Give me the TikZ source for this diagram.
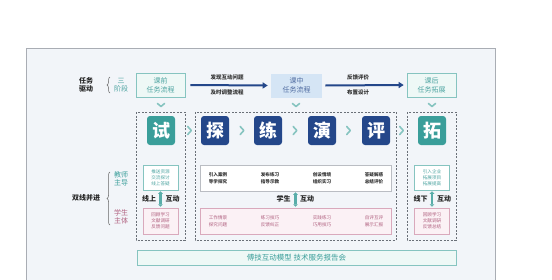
\documentclass[tikz,border=0pt]{standalone}
\usepackage{fontspec}
\setmainfont{Noto Sans CJK SC}
\usetikzlibrary{arrows.meta,decorations.pathreplacing}
\definecolor{tealD}{HTML}{3A9E9A}
\definecolor{tealT}{HTML}{4FA5A2}
\definecolor{tealB}{HTML}{86C4C0}
\definecolor{tealF}{HTML}{EEF8F6}
\definecolor{navy}{HTML}{24478A}
\definecolor{lblue}{HTML}{D5E5F5}
\definecolor{pinkB}{HTML}{D9A9BC}
\definecolor{pinkF}{HTML}{FBF1F5}
\definecolor{pinkT}{HTML}{B0607F}
\definecolor{frameF}{HTML}{F2F5F9}
\definecolor{frameB}{HTML}{A9ADB4}
\definecolor{dashC}{HTML}{6A7078}
\begin{document}
\begin{tikzpicture}[x=1pt,y=-1pt,
  lab/.style={font=\bfseries\fontsize{7}{8.5}\selectfont, align=center, text=black!85},
  tealtxt/.style={font=\fontsize{7}{8.5}\selectfont, align=center, text=tealT},
  stagebox/.style={draw=tealB, fill=tealF, line width=0.6pt, minimum width=49pt, minimum height=24pt, inner sep=0pt, font=\fontsize{7}{9}\selectfont, align=center, text=tealT},
  bigT/.style={fill=tealD, rounded corners=3pt, minimum width=28pt, minimum height=29pt, inner sep=0pt, text=white, font=\bfseries\fontsize{18}{18}\selectfont},
  bigN/.style={fill=navy, rounded corners=3pt, minimum width=28pt, minimum height=29pt, inner sep=0pt, text=white, font=\bfseries\fontsize{18}{18}\selectfont},
  dbox/.style={draw=dashC, dashed, line width=0.6pt, dash pattern=on 2pt off 1.5pt},
  tbox/.style={draw=tealB, fill=white, line width=0.5pt},
  gbox/.style={draw=frameB!80, fill=white, line width=0.5pt},
  pbox/.style={draw=pinkB, fill=pinkF, line width=0.5pt},
  tsmall/.style={font=\fontsize{4.6}{6}\selectfont, align=center, text=tealT},
  nsmall/.style={font=\bfseries\fontsize{4.6}{6.5}\selectfont, align=center, text=black!80},
  psmall/.style={font=\fontsize{4.6}{6.5}\selectfont, align=center, text=pinkT},
  chevline/.style={draw=tealB, line width=1.6pt, line cap=round, line join=round},
  flow/.style={-{Triangle[length=5pt,width=6pt]}, line width=2pt, draw=navy},
  ia/.style={{Triangle[length=2.5pt,width=4.5pt]}-{Triangle[length=2.5pt,width=4.5pt]}, line width=2.2pt, draw=tealD!85},
  brace/.style={decorate, decoration={brace, amplitude=3pt}, draw=black!60, line width=0.5pt}]
\useasboundingbox (0,0) rectangle (552,279);
\clip (0,0) rectangle (552,279);
\fill[white] (0,0) rectangle (552,279);
\draw[frameB, fill=frameF, line width=0.7pt] (26,290) -- (26,48.5) -- (495.5,48.5) -- (495.5,290);

% top row
\node[lab] (rw) at (86,85) {任务\\驱动};
\draw[brace] (110,93) -- (110,77);
\node[tealtxt] (sj) at (121,85) {三\\阶段};
\node[stagebox] (pre) at (160.5,85) {课前\\任务流程};
\node[stagebox, draw=none, fill=lblue, text=navy!80, minimum width=51pt] (mid) at (296.5,85.5) {课中\\任务流程};
\node[stagebox] (post) at (431.5,85) {课后\\任务拓展};
\draw[flow] ([xshift=5pt]pre.east) -- ([xshift=-3pt]mid.west);
\draw[flow] ([xshift=3pt]mid.east) -- ([xshift=-3pt]post.west);
\node[nsmall, font=\bfseries\fontsize{5.5}{6}\selectfont] (l1) at (227,77) {发现互动问题};
\node[nsmall, font=\bfseries\fontsize{5.5}{6}\selectfont] (l2) at (227,92) {及时调整流程};
\node[nsmall, font=\bfseries\fontsize{5.5}{6}\selectfont] (l3) at (358,77) {反馈评价};
\node[nsmall, font=\bfseries\fontsize{5.5}{6}\selectfont] (l4) at (358,92) {布置设计};

% down chevrons
\foreach \x in {161,296,432}{
  \draw[chevline] (\x-3.5,103.5) -- (\x,106.5) -- (\x+3.5,103.5);
}

% dashed groups
\draw[dbox] (136,112) rectangle (185,240);
\draw[dbox] (195,112) rectangle (396,240);
\draw[dbox] (407,112) rectangle (456,240);

% big characters
\node[bigT] (shi) at (161,130.5) {试};
\node[bigN] (tan) at (215,130.5) {探};
\node[bigN] (lian) at (268,130.5) {练};
\node[bigN] (yan) at (322,130.5) {演};
\node[bigN] (ping) at (376,130.5) {评};
\node[bigT] (tuo) at (432,130.5) {拓};
\foreach \x in {189.5,242,295,348.5,401.5}{
  \draw[chevline] (\x-1.8,126.5) -- (\x+1.8,130.5) -- (\x-1.8,134.5);
}

% left labels
\node[lab] (sx) at (86,198) {双线并进};
\draw[brace] (110,225) -- (110,172);
\node[tealtxt, text=tealD] (js) at (121,179) {教师\\主导};
\node[tealtxt, text=pinkT] (xs) at (121,217) {学生\\主体};

% left column
\node[tbox, minimum width=35pt, minimum height=25pt, inner sep=0pt] (lt) at (160.5,177.5) {};
\node[tsmall] (ltt) at (lt) {推送资源\\交流探讨\\线上答疑};
\node[pbox, minimum width=35pt, minimum height=26pt, inner sep=0pt] (lp) at (160.5,221) {};
\node[psmall, font=\fontsize{4.6}{6}\selectfont] (lpt) at (lp) {回顾学习\\文献调研\\反馈问题};
\draw[ia] ([yshift=-1pt]lt.south) -- ([yshift=1pt]lp.north);
\node[lab] (ls) at (149,199) {线上};
\node[lab] (lh) at (172.5,199) {互动};

% middle column
\node[gbox, minimum width=191pt, minimum height=26pt, inner sep=0pt] (mt) at (295.5,178) {};
\node[nsmall] (m1) at (218,178) {引入案例\\导学探究};
\node[nsmall] (m2) at (270,178) {发布练习\\指导示教};
\node[nsmall] (m3) at (322,178) {创设情境\\组织实习};
\node[nsmall] (m4) at (374,178) {答疑解惑\\总结评价};
\node[pbox, minimum width=191pt, minimum height=26pt, inner sep=0pt] (mp) at (295.5,221) {};
\node[psmall] (p1) at (218,221) {工作情景\\探究问题};
\node[psmall] (p2) at (270,221) {练习技巧\\反馈纠正};
\node[psmall] (p3) at (322,221) {实践练习\\巧用技巧};
\node[psmall] (p4) at (374,221) {自评互评\\展示汇报};
\draw[ia] ([yshift=-1pt]mt.south) -- ([yshift=1pt]mp.north);
\node[lab] (ms) at (283.5,199) {学生};
\node[lab] (mh) at (307,199) {互动};

% right column
\node[tbox, minimum width=35pt, minimum height=25pt, inner sep=0pt] (rt) at (432,177.5) {};
\node[tsmall] (rtt) at (rt) {引入企业\\拓展项目\\拓展提高};
\node[pbox, minimum width=35pt, minimum height=26pt, inner sep=0pt] (rp) at (432,221) {};
\node[psmall, font=\fontsize{4.6}{6}\selectfont] (rpt) at (rp) {回顾学习\\文献调研\\反馈总结};
\draw[ia] ([yshift=-1pt]rt.south) -- ([yshift=1pt]rp.north);
\node[lab] (rs) at (420.5,199) {线下};
\node[lab] (rh) at (444,199) {互动};

% bottom bar
\node[draw=tealB, fill=tealF, line width=0.5pt, minimum width=319pt, minimum height=15pt, inner sep=0pt, text=tealD, font=\fontsize{7.5}{8}\selectfont] (bar) at (296.5,258) {傅技互动模型\ 技术服务报告会};
\end{tikzpicture}
\end{document}
